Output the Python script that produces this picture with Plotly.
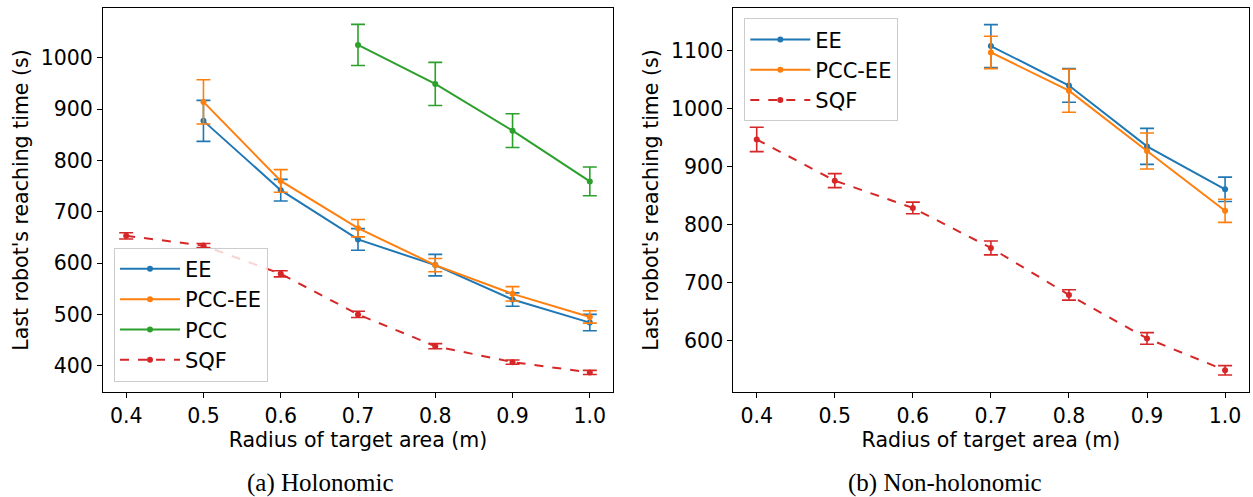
import plotly.graph_objects as go

# ---------------- data ----------------
radius = [0.4, 0.5, 0.6, 0.7, 0.8, 0.9, 1.0]

# (a) Holonomic
hol_ee_x = [0.5, 0.6, 0.7, 0.8, 0.9, 1.0]
hol_ee = [877, 742, 646, 596, 529, 484]
hol_ee_err = [40, 21, 21, 21, 13, 16]

hol_pccee_x = [0.5, 0.6, 0.7, 0.8, 0.9, 1.0]
hol_pccee = [914, 760, 668, 596, 540, 495]
hol_pccee_err = [43, 22, 17, 13, 14, 12]

hol_pcc_x = [0.7, 0.8, 0.9, 1.0]
hol_pcc = [1025, 949, 858, 759]
hol_pcc_err = [40, 42, 33, 28]

hol_sqf_x = [0.4, 0.5, 0.6, 0.7, 0.8, 0.9, 1.0]
hol_sqf = [653, 634, 579, 500, 438, 407, 387]
hol_sqf_err = [6, 4, 6, 6, 5, 4, 4]

# (b) Non-holonomic
non_ee_x = [0.7, 0.8, 0.9, 1.0]
non_ee = [1108, 1040, 935, 861]
non_ee_err = [37, 29, 31, 21]

non_pccee_x = [0.7, 0.8, 0.9, 1.0]
non_pccee = [1097, 1031, 927, 824]
non_pccee_err = [28, 37, 31, 20]

non_sqf_x = [0.4, 0.5, 0.6, 0.7, 0.8, 0.9, 1.0]
non_sqf = [947, 876, 829, 760, 679, 604, 549]
non_sqf_err = [21, 12, 10, 12, 9, 10, 8]

left_yticks = [400, 500, 600, 700, 800, 900, 1000]
right_yticks = [600, 700, 800, 900, 1000, 1100]
xticktext = ["0.4", "0.5", "0.6", "0.7", "0.8", "0.9", "1.0"]

C_EE = "#1f77b4"
C_PCCEE = "#ff7f0e"
C_PCC = "#2ca02c"
C_SQF = "#d62728"

FONT = "DejaVu Sans"
FS = 20.5
LFS = 21

fig = go.Figure()


def add(x, y, err, name, color, xa, ya, legend, group, dash="solid"):
    fig.add_trace(go.Scatter(
        x=x, y=y, name=name, mode="lines+markers",
        line=dict(color=color, width=2, dash=dash),
        marker=dict(color=color, size=6),
        error_y=dict(type="data", array=err, visible=True, color=color,
                     thickness=1.6, width=7),
        xaxis=xa, yaxis=ya, legend=legend, legendgroup=group,
    ))


add(hol_ee_x, hol_ee, hol_ee_err, "EE", C_EE, "x", "y", "legend", "a1")
add(hol_pccee_x, hol_pccee, hol_pccee_err, "PCC-EE", C_PCCEE, "x", "y", "legend", "a2")
add(hol_pcc_x, hol_pcc, hol_pcc_err, "PCC", C_PCC, "x", "y", "legend", "a3")
add(hol_sqf_x, hol_sqf, hol_sqf_err, "SQF", C_SQF, "x", "y", "legend", "a4", dash="dash")

add(non_ee_x, non_ee, non_ee_err, "EE", C_EE, "x2", "y2", "legend2", "b1")
add(non_pccee_x, non_pccee, non_pccee_err, "PCC-EE", C_PCCEE, "x2", "y2", "legend2", "b2")
add(non_sqf_x, non_sqf, non_sqf_err, "SQF", C_SQF, "x2", "y2", "legend2", "b3", dash="dash")

W, H = 1253, 497

axis_common = dict(
    showline=True, linecolor="black", linewidth=1, mirror=True,
    ticks="outside", ticklen=5, tickwidth=1, tickcolor="black",
    showgrid=False, zeroline=False, automargin=False,
    tickfont=dict(family=FONT, size=FS, color="black"),
)

fig.update_layout(
    width=W, height=H,
    margin=dict(l=0, r=0, t=0, b=0, autoexpand=False),
    paper_bgcolor="white", plot_bgcolor="white",
    font=dict(family=FONT, size=FS, color="black"),
    xaxis=dict(domain=[103 / W, 613 / W], range=[0.37, 1.03],
               tickvals=radius, ticktext=xticktext, anchor="y",
               title=dict(text="Radius of target area (m)", standoff=4,
                          font=dict(family=FONT, size=FS)),
               **axis_common),
    yaxis=dict(domain=[1 - 392 / H, 1 - 8 / H], range=[348.8, 1096.9],
               tickvals=left_yticks, anchor="x",
               title=dict(text="Last robot's reaching time (s)", standoff=6,
                          font=dict(family=FONT, size=FS)),
               **axis_common),
    xaxis2=dict(domain=[733.3 / W, 1248.5 / W], range=[0.37, 1.03],
                tickvals=radius, ticktext=xticktext, anchor="y2",
                title=dict(text="Radius of target area (m)", standoff=4,
                           font=dict(family=FONT, size=FS)),
                **axis_common),
    yaxis2=dict(domain=[1 - 392 / H, 1 - 8 / H], range=[511.6, 1173.6],
                tickvals=right_yticks, anchor="x2",
                title=dict(text="Last robot's reaching time (s)", standoff=6,
                           font=dict(family=FONT, size=FS)),
                **axis_common),
    legend=dict(x=114 / W, y=1 - 247.7 / H, xanchor="left", yanchor="top",
                bgcolor="rgba(255,255,255,0.8)", bordercolor="#cccccc",
                borderwidth=1, font=dict(family=FONT, size=LFS),
                itemwidth=60, tracegroupgap=0),
    legend2=dict(x=744.3 / W, y=1 - 18.3 / H, xanchor="left", yanchor="top",
                 bgcolor="rgba(255,255,255,0.8)", bordercolor="#cccccc",
                 borderwidth=1, font=dict(family=FONT, size=LFS),
                 itemwidth=60, tracegroupgap=0),
    showlegend=True,
)

fig.add_annotation(text="(a) Holonomic", x=320 / W, y=1 - 483 / H,
                   xref="paper", yref="paper", showarrow=False,
                   xanchor="center", yanchor="middle",
                   font=dict(family="Liberation Serif", size=25, color="black"))
fig.add_annotation(text="(b) Non-holonomic", x=945 / W, y=1 - 483 / H,
                   xref="paper", yref="paper", showarrow=False,
                   xanchor="center", yanchor="middle",
                   font=dict(family="Liberation Serif", size=25, color="black"))

fig.write_html(
    "out.html",
    config={"displayModeBar": False},
    post_script="document.body.style.margin='0';document.body.style.overflow='hidden';",
)
